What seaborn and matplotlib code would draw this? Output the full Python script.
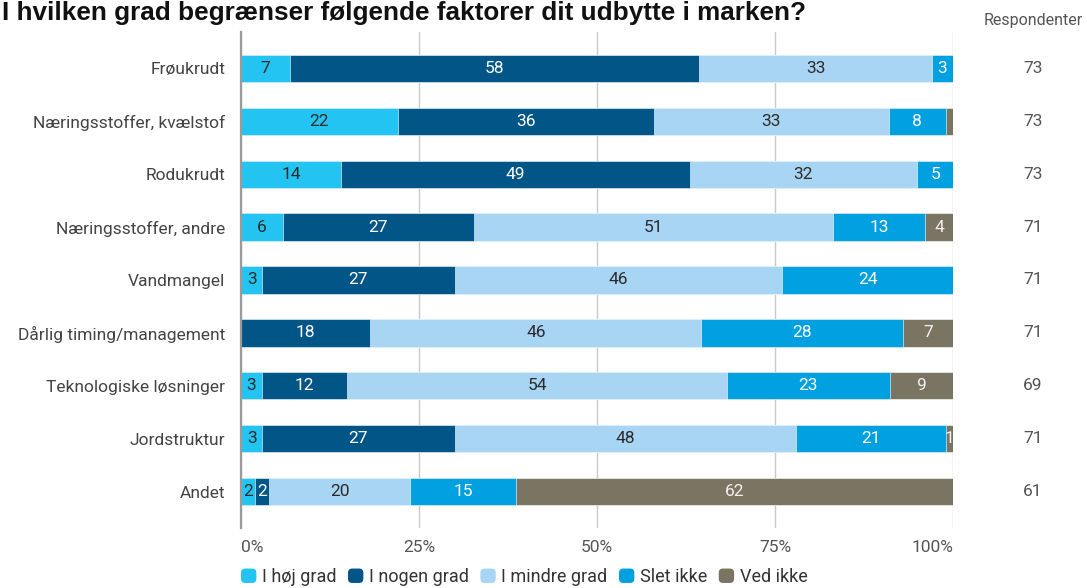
import numpy as np
import pandas as pd
import matplotlib
matplotlib.use("Agg")
import matplotlib.pyplot as plt
from matplotlib.patches import Patch, FancyBboxPatch
from matplotlib.legend_handler import HandlerPatch
import seaborn as sns

# Survey: how much does each factor limit the yield (share of answers, %)
factors = [
    "Frøukrudt",
    "Næringsstoffer, kvælstof",
    "Rodukrudt",
    "Næringsstoffer, andre",
    "Vandmangel",
    "Dårlig timing/management",
    "Teknologiske løsninger",
    "Jordstruktur",
    "Andet",
]
hoej_grad = [7, 22, 14, 6, 3, 0, 3, 3, 2]
nogen_grad = [58, 36, 49, 27, 27, 18, 12, 27, 2]
mindre_grad = [33, 33, 32, 51, 46, 46, 54, 48, 20]
slet_ikke = [3, 8, 5, 13, 24, 28, 23, 21, 15]
ved_ikke = [0, 1, 0, 4, 0, 7, 9, 1, 62]
respondents = [73, 73, 73, 71, 71, 71, 69, 71, 61]

answers = ["I høj grad", "I nogen grad", "I mindre grad", "Slet ikke", "Ved ikke"]
x_ticks = [0, 25, 50, 75, 100]
tick_labels = ["0%", "25%", "50%", "75%", "100%"]

# segments too narrow to carry a value label
unlabeled = {("Næringsstoffer, kvælstof", "Ved ikke")}

colors = ["#23C4F2", "#015587", "#A9D5F4", "#01A0E0", "#7A7562"]
text_colors = ["#2b2b2b", "#ffffff", "#2b2b2b", "#ffffff", "#f0f0f0"]

df = pd.DataFrame(
    {
        answers[0]: hoej_grad,
        answers[1]: nogen_grad,
        answers[2]: mindre_grad,
        answers[3]: slet_ikke,
        answers[4]: ved_ikke,
    },
    index=factors,
)
# rounded percentages are rescaled so every bar spans exactly 100 %
shares = df.div(df.sum(axis=1), axis=0) * 100
cum = shares.cumsum(axis=1)

sns.set_theme(style="white")
plt.rcParams["font.family"] = ["Roboto", "DejaVu Sans"]

FS = 12.5
W, H = 1087, 588
fig = plt.figure(figsize=(W / 100, H / 100), dpi=100)
ax = fig.add_axes([241 / W, 1 - 528 / H, (953 - 241) / W, (528 - 32) / H])

bar_h = 0.51
# stacked bars: draw cumulative totals back to front
for i in reversed(range(len(answers))):
    sns.barplot(
        x=cum[answers[i]].values,
        y=factors,
        orient="h",
        color=colors[i],
        saturation=1,
        width=bar_h,
        edgecolor="#ffffff",
        linewidth=0.4,
        ax=ax,
        zorder=2,
    )

# value labels in the middle of each segment
for r, f in enumerate(factors):
    left = 0.0
    for i, a in enumerate(answers):
        v = df.loc[f, a]
        w = shares.loc[f, a]
        if v > 0 and (f, a) not in unlabeled:
            ax.text(left + w / 2, r, f"{v}", ha="center", va="center",
                    fontsize=FS, color=text_colors[i], zorder=5)
        left += w

ax.set_xlim(0, 100)
ax.set_ylim(len(factors) - 1 + 0.68, -0.68)
ax.set_xticks(x_ticks)
ax.set_xticklabels(tick_labels)
for lab, ha in zip(ax.get_xticklabels(), ["left", "center", "center", "center", "right"]):
    lab.set_ha(ha)
ax.tick_params(axis="x", length=0, pad=9, labelsize=FS, labelcolor="#555555")
ax.tick_params(axis="y", length=0, pad=11.5, labelsize=FS, labelcolor="#444444")
ax.set_xlabel("")
ax.set_ylabel("")

ax.set_axisbelow(True)
ax.xaxis.grid(True, color="#c9c9c9", linewidth=1)
ax.yaxis.grid(False)
for s in ["top", "right", "bottom"]:
    ax.spines[s].set_visible(False)
ax.spines["left"].set_color("#9a9a9a")
ax.spines["left"].set_linewidth(1.6)
ax.spines["left"].set_zorder(6)

# respondent counts at the right
x_resp = (1033 - 241) / (953 - 241) * 100
ax.text(x_resp, -0.9, "Respondenter", ha="center", va="center",
        fontsize=11.5, color="#555555", clip_on=False)
for r, n in enumerate(respondents):
    ax.text(x_resp, r, f"{n}", ha="center", va="center",
            fontsize=FS, color="#555555", clip_on=False)

# title
fig.text(2 / W, 1 - 20 / H, "I hvilken grad begrænser følgende faktorer dit udbytte i marken?",
         ha="left", va="baseline", fontsize=18.8, fontweight="bold",
         family=["Liberation Sans", "DejaVu Sans"], color="#111111")


class RoundedSquare(HandlerPatch):
    def __init__(self):
        def make(legend, orig_handle, xdescent, ydescent, width, height, fontsize):
            return FancyBboxPatch((-xdescent + 1.5, -ydescent + 1.5), width - 3, height - 3,
                                  boxstyle="round,pad=1.5,rounding_size=3")
        super().__init__(patch_func=make)


handles = [Patch(facecolor=c, edgecolor="none") for c in colors]
fig.legend(handles, answers, loc="center left",
           bbox_to_anchor=(241 / W, 1 - 577 / H), ncol=5, frameon=False,
           handlelength=0.85, handleheight=0.85, handletextpad=0.3,
           columnspacing=0.65, borderaxespad=0, borderpad=0,
           fontsize=13, labelcolor="#333333",
           handler_map={Patch: RoundedSquare()})

fig.savefig("out.png", dpi=100)
